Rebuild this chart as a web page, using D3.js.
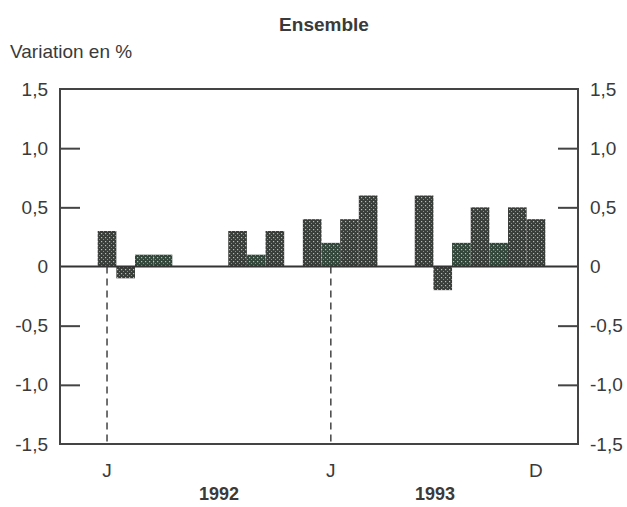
<!DOCTYPE html>
<html>
<head>
<meta charset="utf-8">
<script src="https://cdn.jsdelivr.net/npm/d3@7"></script>
<style>
  body { margin: 0; background: #fff; }
  text { font-family: "Liberation Sans", Arial, sans-serif; fill: #3a3a3a; }
</style>
</head>
<body>
<svg id="chart" width="627" height="507"></svg>
<script>
// ---- data ----
const months = ["J92","F92","M92","A92","M92b","J92b","J92c","A92b","S92","O92","N92","D92",
                "J93","F93","M93","A93","M93b","J93b","J93c","A93b","S93","O93","N93","D93"];
const values = [0.3, -0.1, 0.1, 0.1, 0, 0, 0, 0.3, 0.1, 0.3, 0, 0.4,
                0.2, 0.4, 0.6, 0, 0, 0.6, -0.2, 0.2, 0.5, 0.2, 0.5, 0.4];
const yTicks = [1.5, 1.0, 0.5, 0, -0.5, -1.0, -1.5];
const yTickLabels = ["1,5", "1,0", "0,5", "0", "-0,5", "-1,0", "-1,5"];
const xLabelMonths = ["J92", "J93", "D93"];
const xLabels = ["J", "J", "D"];
const dashedMonths = ["J92", "J93"];
const years = ["1992", "1993"];
const title = "Ensemble";
const yTitle = "Variation en %";

// ---- layout ----
const svg = d3.select("#chart");
const frame = { left: 60, right: 578, top: 89, bottom: 444 };
const FS = "19px";

const x = d3.scaleBand().domain(months).range([97.7, 545.3]).padding(0);
const y = d3.scaleLinear().domain([-1.5, 1.5]).range([frame.bottom, frame.top]);

// patterns
const defs = svg.append("defs");
function addPattern(id, bg) {
  const p = defs.append("pattern").attr("id", id).attr("patternUnits", "userSpaceOnUse")
    .attr("width", 4).attr("height", 4);
  p.append("rect").attr("width", 4).attr("height", 4).attr("fill", bg);
  p.append("rect").attr("x", 1).attr("y", 1).attr("width", 1.2).attr("height", 1.2).attr("fill", "#b8bcb8");
  p.append("rect").attr("x", 3).attr("y", 3).attr("width", 1).attr("height", 1).attr("fill", "#8a8f8a");
}
addPattern("dots", "#3a3e3b");
addPattern("dotsGreen", "#33473a");

// bars
svg.append("g").selectAll("rect").data(months.map((m, i) => ({ m, v: values[i] })).filter(d => d.v !== 0))
  .join("rect")
  .attr("x", d => x(d.m))
  .attr("width", x.bandwidth())
  .attr("y", d => y(Math.max(0, d.v)))
  .attr("height", d => Math.abs(y(d.v) - y(0)))
  .attr("fill", d => d.v > 0 && d.v < 0.25 ? "url(#dotsGreen)" : "url(#dots)");

// zero line
svg.append("line").attr("x1", frame.left).attr("x2", frame.right)
  .attr("y1", y(0)).attr("y2", y(0)).attr("stroke", "#333").attr("stroke-width", 2);

// dashed lines
svg.append("g").selectAll("line").data(dashedMonths).join("line")
  .attr("x1", d => x(d) + x.bandwidth() / 2).attr("x2", d => x(d) + x.bandwidth() / 2)
  .attr("y1", y(0)).attr("y2", frame.bottom)
  .attr("stroke", "#444").attr("stroke-width", 1.5).attr("stroke-dasharray", "7,5");

// frame
svg.append("rect").attr("x", frame.left).attr("y", frame.top)
  .attr("width", frame.right - frame.left).attr("height", frame.bottom - frame.top)
  .attr("fill", "none").attr("stroke", "#444").attr("stroke-width", 2);

// y axes (left and right) with inner ticks
const leftAxis = d3.axisLeft(y).tickValues(yTicks).tickSize(-20)
  .tickFormat((d, i) => yTickLabels[i]);
const gl = svg.append("g").attr("transform", `translate(${frame.left},0)`).call(leftAxis);
gl.select(".domain").remove();
gl.selectAll(".tick line").attr("stroke", "#444").attr("stroke-width", 2)
  .filter(d => d === 1.5 || d === -1.5 || d === 0).remove();
gl.selectAll(".tick text").attr("x", -12).style("font-size", FS).attr("fill", "#3a3a3a");

const rightAxis = d3.axisRight(y).tickValues(yTicks).tickSize(-20)
  .tickFormat((d, i) => yTickLabels[i]);
const gr = svg.append("g").attr("transform", `translate(${frame.right},0)`).call(rightAxis);
gr.select(".domain").remove();
gr.selectAll(".tick line").attr("stroke", "#444").attr("stroke-width", 2)
  .filter(d => d === 1.5 || d === -1.5 || d === 0).remove();
gr.selectAll(".tick text").attr("x", 12).style("font-size", FS).attr("fill", "#3a3a3a");

// x labels
const xAxis = d3.axisBottom(x).tickValues(xLabelMonths).tickSize(0)
  .tickFormat((d, i) => xLabels[i]);
const gx = svg.append("g").attr("transform", `translate(0,${frame.bottom})`).call(xAxis);
gx.select(".domain").remove();
gx.selectAll(".tick text").attr("y", 33).attr("dy", null).style("font-size", FS).attr("fill", "#3a3a3a");

// years
svg.append("g").selectAll("text").data(years).join("text")
  .attr("x", (d, i) => i === 0 ? 219 : 435)
  .attr("y", 500).attr("text-anchor", "middle")
  .style("font-size", "18px").style("font-weight", "bold").text(d => d);

// titles
svg.append("text").attr("x", 324).attr("y", 31).attr("text-anchor", "middle")
  .style("font-size", "19px").style("font-weight", "bold").text(title);
svg.append("text").attr("x", 10).attr("y", 58)
  .style("font-size", FS).text(yTitle);
</script>
</body>
</html>
